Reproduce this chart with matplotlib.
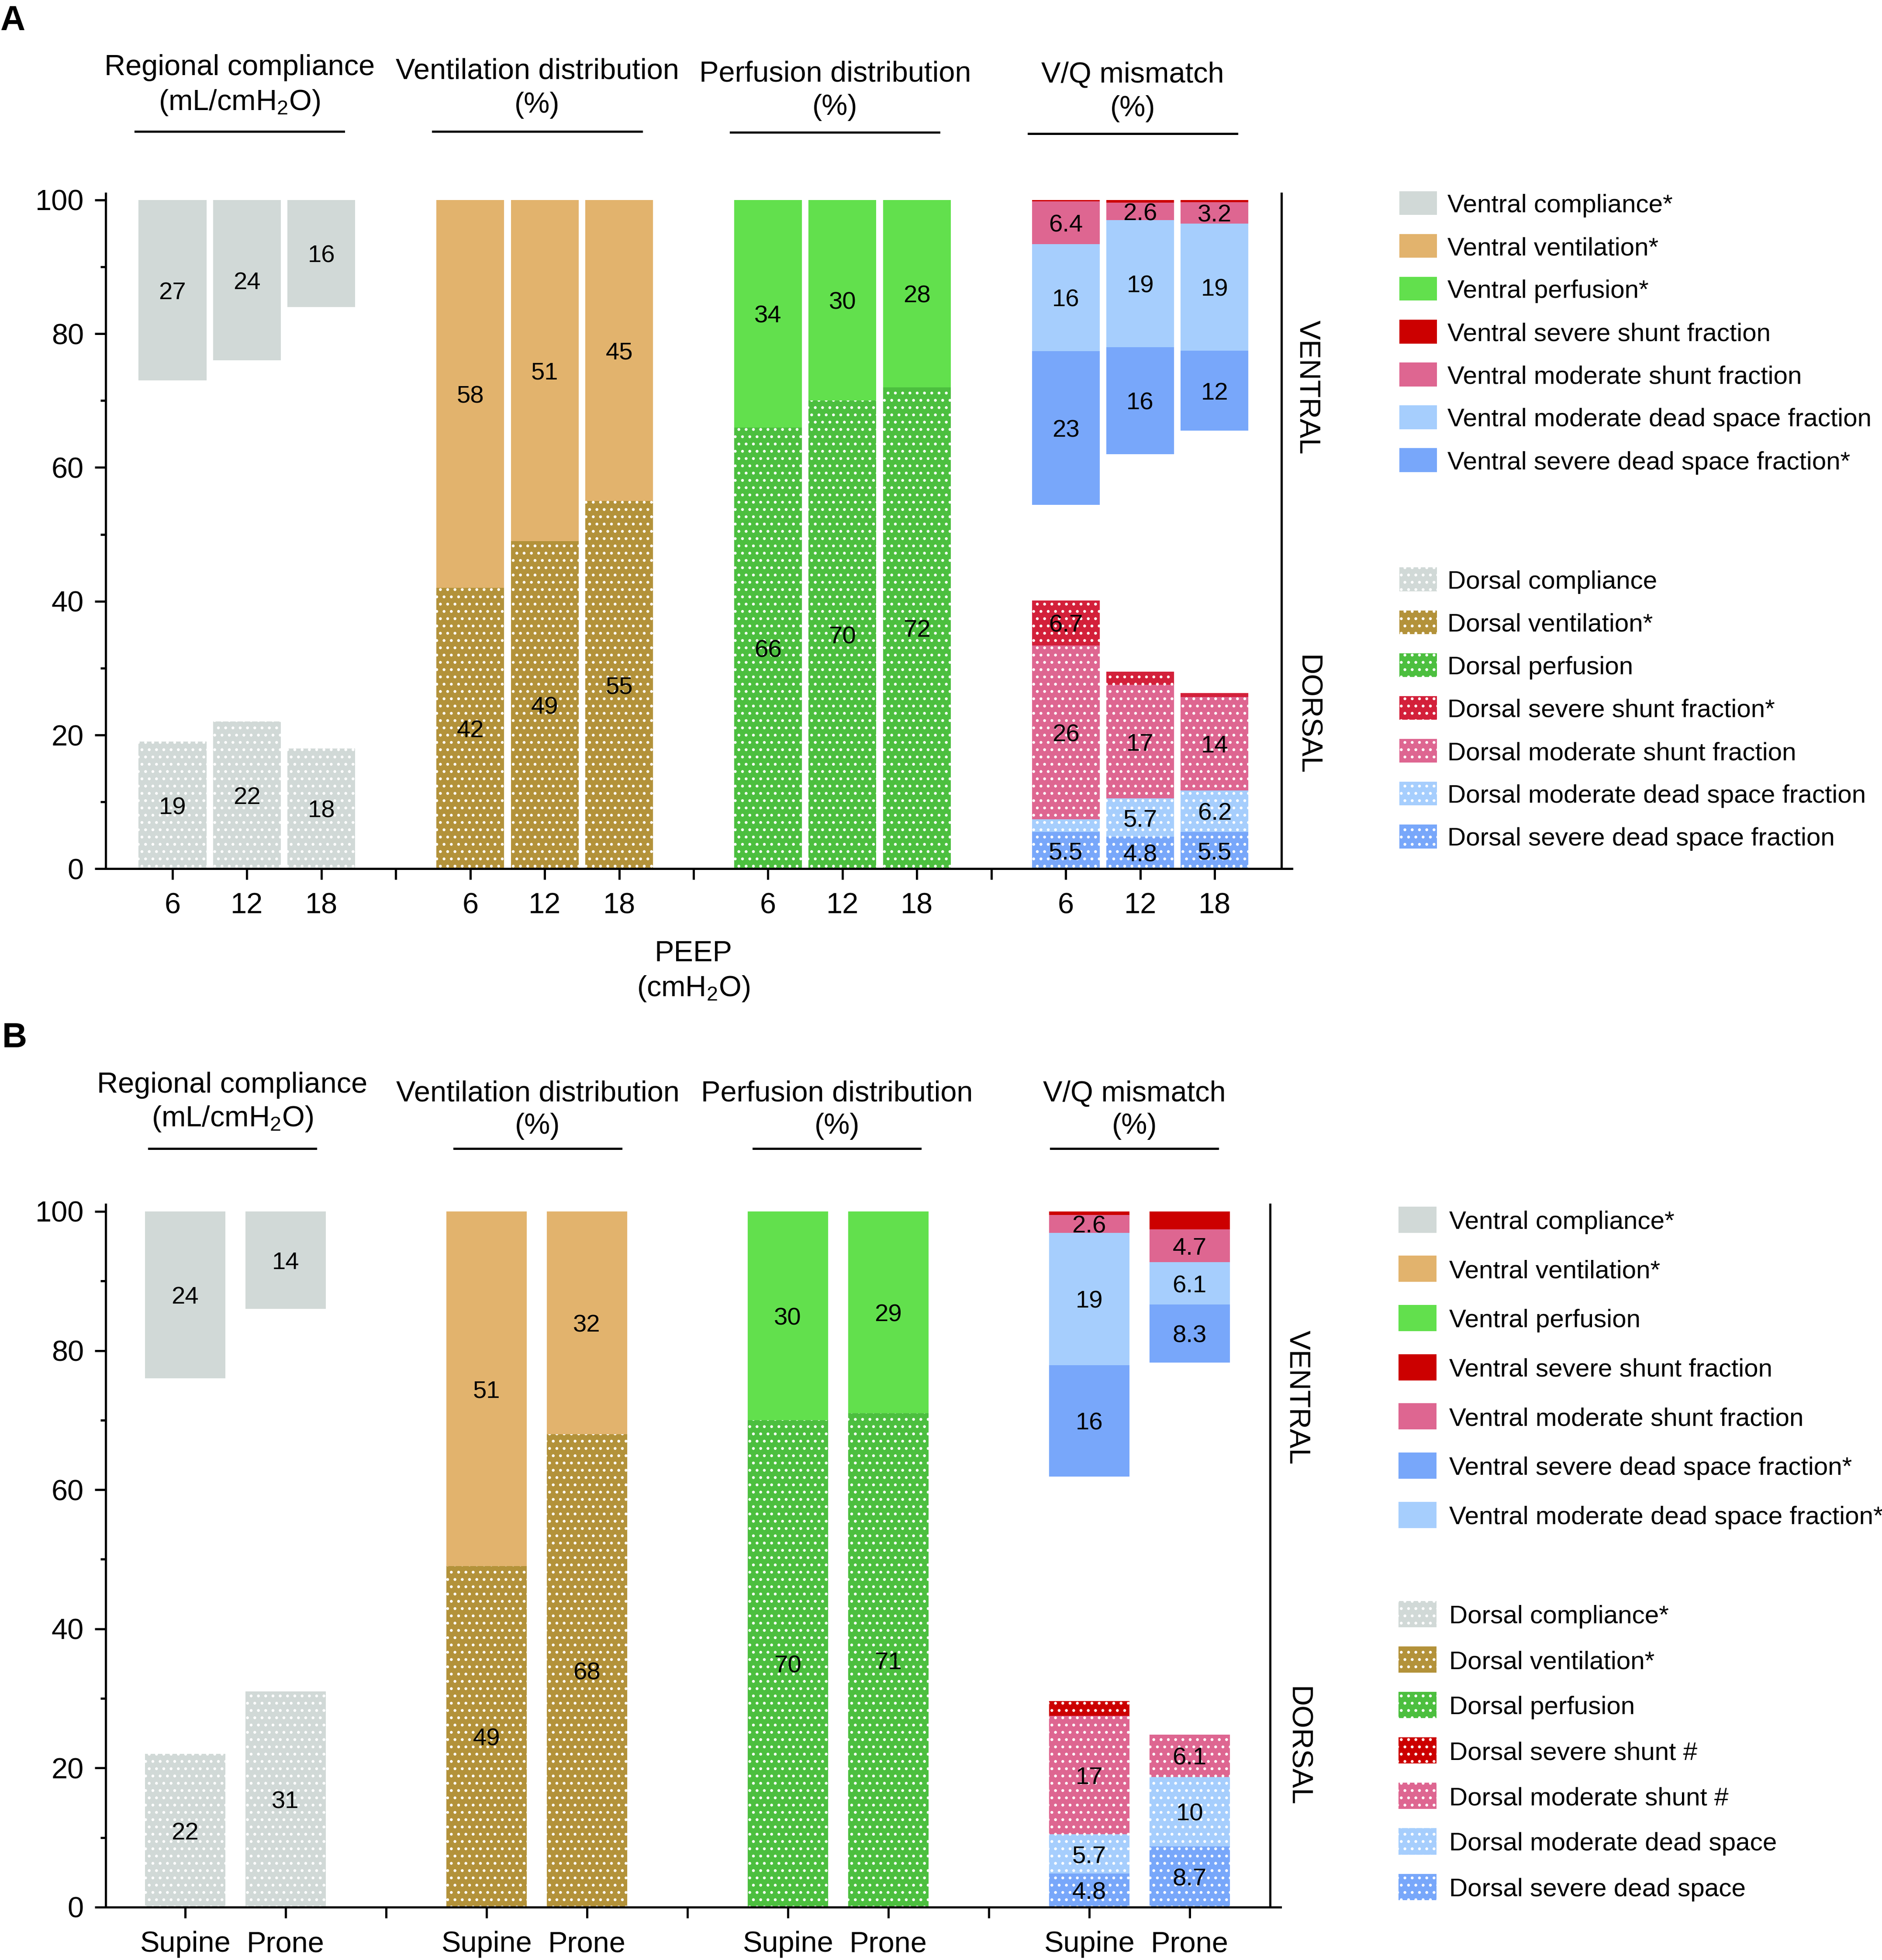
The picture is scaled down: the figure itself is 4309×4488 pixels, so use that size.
import matplotlib
matplotlib.use("Agg")
import matplotlib.pyplot as plt
import matplotlib.transforms as mtransforms
from matplotlib.patches import Rectangle
import numpy as np

plt.rcParams["font.family"] = ["Liberation Sans", "DejaVu Sans"]
plt.rcParams["mathtext.default"] = "regular"
plt.rcParams["hatch.linewidth"] = 0.75
plt.rcParams["axes.linewidth"] = 1.2

# ---------------- data, panel A (PEEP, cmH2O) ----------------
peep_labels = ["6", "12", "18"]
a_comp_ventral = [27, 24, 16]
a_comp_dorsal = [19, 22, 18]
a_vent_ventral = [58, 51, 45]
a_vent_dorsal = [42, 49, 55]
a_perf_ventral = [34, 30, 28]
a_perf_dorsal = [66, 70, 72]
# V/Q ventral, stacked downwards from 100
a_v_sev_shunt = [0.2, 0.4, 0.3]
a_v_mod_shunt = [6.4, 2.6, 3.2]
a_v_mod_ds = [16, 19, 19]
a_v_sev_ds = [23, 16, 12]
# V/Q dorsal, stacked upwards from 0
a_d_sev_ds = [5.5, 4.8, 5.5]
a_d_mod_ds = [1.9, 5.7, 6.2]
a_d_mod_shunt = [26, 17, 14]
a_d_sev_shunt = [6.7, 2.0, 0.6]

# ---------------- data, panel B (position) ----------------
position_labels = ["Supine", "Prone"]
b_comp_ventral = [24, 14]
b_comp_dorsal = [22, 31]
b_vent_ventral = [51, 32]
b_vent_dorsal = [49, 68]
b_perf_ventral = [30, 29]
b_perf_dorsal = [70, 71]
b_v_sev_shunt = [0.5, 2.6]
b_v_mod_shunt = [2.6, 4.7]
b_v_mod_ds = [19, 6.1]
b_v_sev_ds = [16, 8.3]
b_d_sev_ds = [4.8, 8.7]
b_d_mod_ds = [5.7, 10]
b_d_mod_shunt = [17, 6.1]
b_d_sev_shunt = [2.1, 0]

titles = ["Regional compliance", "Ventilation distribution", "Perfusion distribution", "V/Q mismatch"]
units = ["(mL/cmH$_2$O)", "(%)", "(%)", "(%)"]

legend_a_ventral = ["Ventral compliance*", "Ventral ventilation*", "Ventral perfusion*",
                    "Ventral severe shunt fraction", "Ventral moderate shunt fraction",
                    "Ventral moderate dead space fraction", "Ventral severe dead space fraction*"]
legend_a_dorsal = ["Dorsal compliance", "Dorsal ventilation*", "Dorsal perfusion",
                   "Dorsal severe shunt fraction*", "Dorsal moderate shunt fraction",
                   "Dorsal moderate dead space fraction", "Dorsal severe dead space fraction"]
legend_b_ventral = ["Ventral compliance*", "Ventral ventilation*", "Ventral perfusion",
                    "Ventral severe shunt fraction", "Ventral moderate shunt fraction",
                    "Ventral severe dead space fraction*", "Ventral moderate dead space fraction*"]
legend_b_dorsal = ["Dorsal compliance*", "Dorsal ventilation*", "Dorsal perfusion",
                   "Dorsal severe shunt #", "Dorsal moderate shunt #",
                   "Dorsal moderate dead space", "Dorsal severe dead space"]

# colours
COMP = "#D1D9D7"
VENT_V = "#E2B36D"
VENT_D = "#B3923A"
PERF_V = "#62E04D"
PERF_D = "#4CBF3F"
SEV_SHUNT = "#CC0000"
SEV_SHUNT_DA = "#D3203A"
MOD_SHUNT = "#DE6691"
MOD_DS = "#A6CEFD"
SEV_DS = "#78A7FA"

W, H = 1505.0, 1568.0  # layout grid (reference at reduced size)

fig = plt.figure(figsize=(4309 / 300, 4488 / 300), dpi=300)


def fig_rect(x0, x1, yb, yt):
    return [x0 / W, 1 - yb / H, (x1 - x0) / W, (yb - yt) / H]


def segment(ax, x, vals, bottoms, color, dotted, width, labelled=True):
    vals = np.asarray(vals, float)
    bottoms = np.asarray(bottoms, float) * np.ones_like(vals)
    kw = dict(facecolor=color, linewidth=0, width=width)
    if dotted:
        kw.update(edgecolor="white", hatch="...")
    ax.bar(x, vals, bottom=bottoms, **kw)
    if labelled:
        for xi, v, b in zip(x, vals, bottoms):
            if v >= 2.5:
                ax.annotate(f"{v:g}", (xi, b + v / 2), xytext=(0, -1.5), textcoords="offset points",
                            ha="center", va="center", fontsize=13.5)


def draw_panel(ax, n, width, pairs, vq_ventral, vq_dorsal, cats):
    xs = [np.arange(n) + g * (n + 1) for g in range(4)]
    for g, (v, d, cv, cd) in enumerate(pairs):
        v = np.asarray(v, float)
        segment(ax, xs[g], v, 100 - v, cv, False, width)
        segment(ax, xs[g], d, 0, cd, True, width)
    top = np.full(n, 100.0)
    for vals, col, lab in vq_ventral:
        vals = np.asarray(vals, float)
        segment(ax, xs[3], vals, top - vals, col, False, width, lab)
        top = top - vals
    base = np.zeros(n)
    for vals, col, lab in vq_dorsal:
        vals = np.asarray(vals, float)
        segment(ax, xs[3], vals, base, col, True, width, lab)
        base = base + vals

    ax.set_ylim(0, 101)
    ax.set_yticks([0, 20, 40, 60, 80, 100])
    ax.set_yticks([10, 30, 50, 70, 90], minor=True)
    ticks = np.arange(4 * (n + 1) - 1)
    ax.set_xticks(ticks)
    ax.set_xticklabels(((cats + [""]) * 4)[:len(ticks)])
    ax.tick_params(axis="both", which="major", length=6, width=1.2, labelsize=16)
    ax.tick_params(axis="y", which="major", pad=6)
    ax.tick_params(axis="x", which="major", pad=7)
    ax.tick_params(axis="y", which="minor", length=3, width=1.2)
    ax.spines["top"].set_visible(False)
    ax.spines["right"].set_visible(False)


def header(ax, centers, half, y1, y2, yline):
    tr = mtransforms.blended_transform_factory(ax.transData, fig.transFigure)
    for i, xc in enumerate(centers):
        ax.text(xc, 1 - y1[i] / H, titles[i], transform=tr, ha="center", va="baseline", fontsize=16)
        ax.text(xc, 1 - y2[i] / H, units[i], transform=tr, ha="center", va="baseline", fontsize=16)
        ax.plot([xc - half, xc + half], [1 - yline[i] / H] * 2, transform=tr,
                color="black", lw=1.2, clip_on=False)


def side_line(ax, x, ylab_v, ylab_d, xlab):
    ax.plot([x, x], [0, 1], color="black", lw=1.2, clip_on=False,
            transform=mtransforms.blended_transform_factory(ax.transData, ax.transAxes))
    ax.text(xlab, ylab_v, "VENTRAL", rotation=-90, ha="center", va="center", fontsize=16, clip_on=False)
    ax.text(xlab, ylab_d, "DORSAL", rotation=-90, ha="center", va="center", fontsize=16, clip_on=False)


def legend_block(labels, colors, dotted, x0, y_first, step, sw_w, sw_h, tx):
    for i, (lab, col) in enumerate(zip(labels, colors)):
        yc = y_first + i * step
        kw = dict(facecolor=col, linewidth=0, transform=fig.transFigure)
        if dotted:
            kw.update(edgecolor="white", hatch="...")
        fig.add_artist(Rectangle((x0 / W, 1 - (yc + sw_h / 2) / H), sw_w / W, sw_h / H, **kw))
        fig.text(tx / W, 1 - (yc + 7.3) / H, lab, fontsize=14, va="baseline", ha="left")


# ---------------- panel A ----------------
axA = fig.add_axes(fig_rect(84.5, 1033.2, 695.0, 154.65))
axA.set_xlim(-0.898, 15.04)
draw_panel(
    axA, 3, 0.91,
    [(a_comp_ventral, a_comp_dorsal, COMP, COMP),
     (a_vent_ventral, a_vent_dorsal, VENT_V, VENT_D),
     (a_perf_ventral, a_perf_dorsal, PERF_V, PERF_D)],
    [(a_v_sev_shunt, SEV_SHUNT, False), (a_v_mod_shunt, MOD_SHUNT, True),
     (a_v_mod_ds, MOD_DS, True), (a_v_sev_ds, SEV_DS, True)],
    [(a_d_sev_ds, SEV_DS, True), (a_d_mod_ds, MOD_DS, True),
     (a_d_mod_shunt, MOD_SHUNT, True), (a_d_sev_shunt, SEV_SHUNT_DA, True)],
    peep_labels)
header(axA, [0.9, 4.9, 8.9, 12.9], 1.4, [60, 63, 65, 66], [88, 90, 92, 93], [105, 105, 106, 107])
side_line(axA, 14.90, 72, 23, 15.24)
trA = mtransforms.blended_transform_factory(axA.transData, fig.transFigure)
axA.text(7, 1 - 769 / H, "PEEP", transform=trA, ha="center", va="baseline", fontsize=16)
axA.text(7, 1 - 797 / H, "(cmH$_2$O)", transform=trA, ha="center", va="baseline", fontsize=16)

legend_block(legend_a_ventral, [COMP, VENT_V, PERF_V, SEV_SHUNT, MOD_SHUNT, MOD_DS, SEV_DS],
             False, 1119, 162.5, 34.27, 30, 19, 1157.5)
legend_block(legend_a_dorsal, [COMP, VENT_D, PERF_D, SEV_SHUNT_DA, MOD_SHUNT, MOD_DS, SEV_DS],
             True, 1119, 463.5, 34.28, 30, 19, 1157.5)

# ---------------- panel B ----------------
axB = fig.add_axes(fig_rect(84.5, 1024.0, 1525.7, 963.6))
axB.set_xlim(-0.79, 10.905)
draw_panel(
    axB, 2, 0.80,
    [(b_comp_ventral, b_comp_dorsal, COMP, COMP),
     (b_vent_ventral, b_vent_dorsal, VENT_V, VENT_D),
     (b_perf_ventral, b_perf_dorsal, PERF_V, PERF_D)],
    [(b_v_sev_shunt, SEV_SHUNT, False), (b_v_mod_shunt, MOD_SHUNT, True),
     (b_v_mod_ds, MOD_DS, True), (b_v_sev_ds, SEV_DS, True)],
    [(b_d_sev_ds, SEV_DS, True), (b_d_mod_ds, MOD_DS, True),
     (b_d_mod_shunt, MOD_SHUNT, True), (b_d_sev_shunt, SEV_SHUNT, True)],
    position_labels)
header(axB, [0.47, 3.51, 6.49, 9.45], 0.83, [874, 881, 881, 881], [901, 907, 907, 907], [919, 919, 919, 919])
side_line(axB, 10.80, 73.3, 23.1, 11.07)

legend_block(legend_b_ventral, [COMP, VENT_V, PERF_V, SEV_SHUNT, MOD_SHUNT, SEV_DS, MOD_DS],
             False, 1118.4, 975.7, 39.37, 30.4, 21, 1159)
legend_block(legend_b_dorsal, [COMP, VENT_D, PERF_D, SEV_SHUNT, MOD_SHUNT, MOD_DS, SEV_DS],
             True, 1118.4, 1291.3, 36.37, 30.4, 21, 1159)

fig.text(0 / W, 1 - 17 / H, "A", fontsize=19, fontweight="bold", ha="left", va="center")
fig.text(1.5 / W, 1 - 830.5 / H, "B", fontsize=19, fontweight="bold", ha="left", va="center")

fig.savefig("out.png", dpi=300, facecolor="white")
